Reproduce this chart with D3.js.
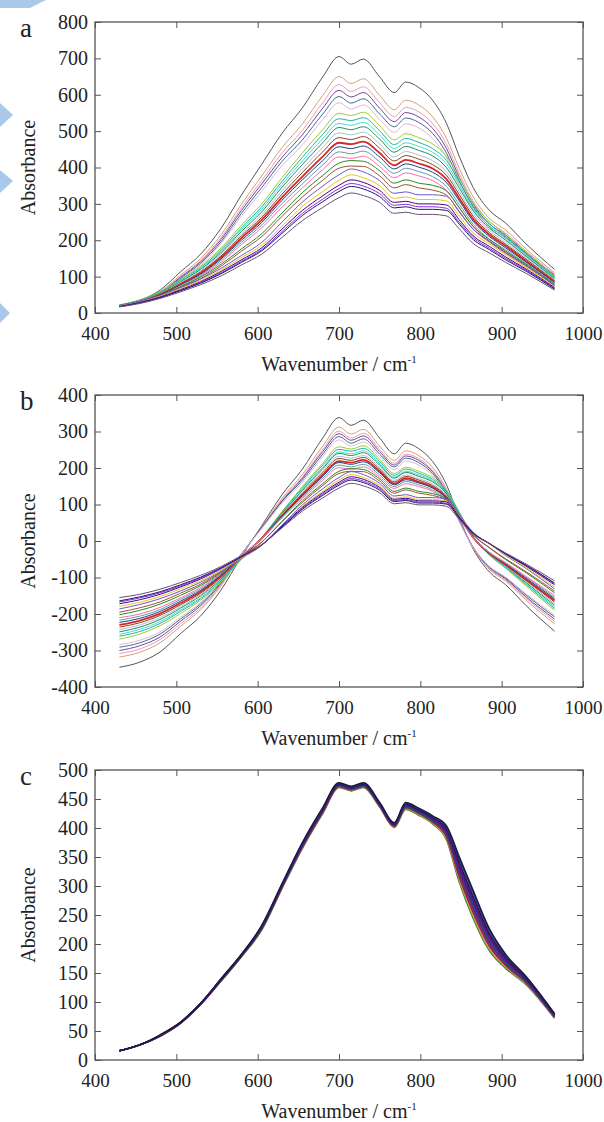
<!DOCTYPE html>
<html>
<head>
<meta charset="utf-8">
<script src="https://cdn.jsdelivr.net/npm/d3@7"></script>
<style>
  body { margin: 0; background: #fff; }
  svg { display: block; }
</style>
</head>
<body>
<svg id="chart" width="604" height="1122"></svg>
<script>
// wavenumber grid (cm-1) shared by every spectrum
const wavenumber = [430, 455, 480, 505, 530, 555, 580, 605, 630, 655, 680, 700, 715, 730, 750, 768, 782, 798, 815, 832, 848, 865, 885, 905, 930, 965];

// a: raw spectra
const rawA = [
  [21, 35, 63, 113, 162, 233, 324, 409, 494, 564, 649, 705, 684, 698, 649, 606, 635, 620, 585, 522, 430, 345, 282, 247, 190, 120],
  [20, 33, 59, 104, 150, 215, 299, 377, 455, 520, 598, 650, 631, 644, 598, 559, 585, 572, 540, 481, 397, 319, 260, 228, 176, 111],
  [19, 31, 57, 100, 144, 207, 289, 364, 440, 502, 578, 628, 609, 622, 578, 540, 565, 553, 521, 465, 383, 308, 251, 220, 170, 107],
  [18, 31, 55, 98, 141, 202, 282, 355, 428, 490, 563, 612, 594, 606, 563, 526, 551, 539, 508, 453, 373, 300, 245, 214, 165, 104],
  [18, 30, 54, 95, 137, 196, 274, 345, 417, 476, 547, 595, 577, 589, 547, 512, 536, 524, 494, 440, 363, 292, 238, 208, 161, 101],
  [17, 29, 52, 92, 133, 191, 266, 335, 405, 462, 532, 578, 561, 572, 532, 497, 520, 509, 480, 428, 353, 283, 231, 202, 156, 98],
  [22, 36, 59, 92, 129, 179, 241, 300, 372, 440, 504, 549, 543, 552, 515, 476, 493, 482, 465, 431, 370, 302, 252, 216, 168, 101],
  [22, 35, 57, 90, 125, 174, 234, 292, 362, 428, 491, 534, 529, 537, 501, 463, 480, 469, 452, 420, 360, 294, 245, 210, 164, 98],
  [21, 35, 56, 88, 122, 170, 229, 285, 354, 418, 479, 521, 516, 524, 489, 452, 468, 458, 442, 410, 351, 287, 239, 205, 160, 96],
  [21, 34, 55, 86, 120, 166, 224, 278, 346, 408, 468, 510, 504, 512, 478, 442, 458, 447, 432, 400, 343, 281, 234, 200, 156, 94],
  [20, 33, 53, 83, 116, 162, 217, 270, 336, 396, 455, 495, 490, 497, 465, 429, 444, 434, 419, 389, 333, 273, 227, 194, 152, 91],
  [20, 32, 52, 81, 113, 157, 212, 263, 327, 386, 443, 482, 477, 485, 453, 418, 433, 423, 408, 379, 325, 266, 221, 189, 148, 89],
  [19, 31, 50, 79, 110, 153, 206, 256, 318, 375, 430, 468, 464, 471, 440, 406, 421, 411, 397, 368, 315, 258, 215, 184, 143, 86],
  [19, 30, 49, 77, 107, 149, 200, 249, 310, 366, 419, 457, 452, 459, 429, 396, 410, 401, 387, 359, 308, 252, 210, 179, 140, 84],
  [18, 29, 47, 75, 104, 145, 194, 242, 301, 355, 407, 443, 438, 445, 416, 384, 398, 389, 375, 348, 298, 244, 203, 174, 136, 81],
  [18, 28, 46, 72, 101, 140, 188, 234, 291, 344, 394, 429, 425, 431, 403, 372, 385, 377, 364, 337, 289, 237, 197, 169, 131, 79],
  [19, 31, 48, 72, 99, 134, 176, 218, 275, 331, 378, 412, 419, 417, 391, 357, 366, 357, 351, 336, 289, 238, 202, 170, 134, 79],
  [18, 30, 46, 70, 95, 129, 170, 210, 266, 319, 365, 398, 404, 403, 377, 344, 353, 344, 338, 324, 279, 230, 195, 164, 129, 76],
  [20, 32, 48, 69, 93, 123, 158, 194, 250, 305, 349, 380, 396, 388, 364, 329, 333, 325, 325, 321, 277, 230, 198, 166, 131, 75],
  [19, 30, 46, 67, 89, 118, 152, 186, 239, 293, 334, 365, 380, 372, 350, 315, 319, 312, 312, 308, 266, 220, 190, 160, 125, 72],
  [18, 29, 44, 64, 86, 114, 146, 179, 231, 282, 322, 351, 366, 359, 337, 304, 307, 300, 300, 297, 256, 212, 183, 154, 121, 70],
  [18, 29, 43, 62, 84, 110, 142, 174, 224, 274, 313, 342, 356, 349, 328, 296, 299, 292, 292, 288, 249, 207, 178, 150, 118, 68],
  [17, 28, 42, 61, 82, 108, 139, 171, 219, 268, 306, 334, 348, 341, 320, 289, 292, 285, 285, 282, 244, 202, 174, 146, 115, 66],
  [17, 26, 40, 58, 78, 102, 132, 162, 208, 254, 290, 317, 330, 323, 304, 274, 277, 271, 271, 267, 231, 191, 165, 139, 109, 63]
];

// b: centred spectra
const centredB = [
  [-346, -332, -304, -254, -205, -134, -43, 42, 127, 197, 282, 338, 317, 331, 282, 239, 268, 253, 218, 155, 63, -22, -85, -120, -177, -247],
  [-318, -305, -279, -234, -188, -123, -39, 39, 117, 182, 260, 312, 293, 306, 260, 221, 247, 234, 202, 143, 59, -19, -78, -110, -162, -227],
  [-308, -296, -270, -227, -183, -120, -38, 37, 113, 175, 251, 301, 282, 295, 251, 213, 238, 226, 194, 138, 56, -19, -76, -107, -157, -220],
  [-300, -287, -263, -220, -177, -116, -36, 37, 110, 172, 245, 294, 276, 288, 245, 208, 233, 221, 190, 135, 55, -18, -73, -104, -153, -214],
  [-291, -279, -255, -214, -172, -113, -35, 36, 108, 167, 238, 286, 268, 280, 238, 203, 227, 215, 185, 131, 54, -17, -71, -101, -148, -208],
  [-284, -272, -249, -209, -168, -110, -35, 34, 104, 161, 231, 277, 260, 271, 231, 196, 219, 208, 179, 127, 52, -18, -70, -99, -145, -203],
  [-269, -255, -232, -199, -162, -112, -50, 9, 81, 149, 213, 258, 252, 261, 224, 185, 202, 191, 174, 140, 79, 11, -39, -75, -123, -190],
  [-261, -248, -226, -193, -158, -109, -49, 9, 79, 145, 208, 251, 246, 254, 218, 180, 197, 186, 169, 137, 77, 11, -38, -73, -119, -185],
  [-256, -242, -221, -189, -155, -107, -48, 8, 77, 141, 202, 244, 239, 247, 212, 175, 191, 181, 165, 133, 74, 10, -38, -72, -117, -181],
  [-249, -236, -215, -184, -150, -104, -46, 8, 76, 138, 198, 240, 234, 242, 208, 172, 188, 177, 162, 130, 73, 11, -36, -70, -114, -176],
  [-243, -230, -210, -180, -147, -101, -46, 7, 73, 133, 192, 232, 227, 234, 202, 166, 181, 171, 156, 126, 70, 10, -36, -69, -111, -172],
  [-236, -224, -204, -175, -143, -99, -44, 7, 71, 130, 187, 226, 221, 229, 197, 162, 177, 167, 152, 123, 69, 10, -35, -67, -108, -167],
  [-230, -218, -199, -170, -139, -96, -43, 7, 69, 126, 181, 219, 215, 222, 191, 157, 172, 162, 148, 119, 66, 9, -34, -65, -106, -163],
  [-223, -212, -193, -165, -135, -93, -42, 7, 68, 124, 177, 215, 210, 217, 187, 154, 168, 159, 145, 117, 66, 10, -32, -63, -102, -158],
  [-217, -206, -188, -160, -131, -90, -41, 7, 66, 120, 172, 208, 203, 210, 181, 149, 163, 154, 140, 113, 63, 9, -32, -61, -99, -154],
  [-210, -200, -182, -156, -127, -88, -40, 6, 63, 116, 166, 201, 197, 203, 175, 144, 157, 149, 136, 109, 61, 9, -31, -59, -97, -149],
  [-202, -190, -173, -149, -122, -87, -45, -3, 54, 110, 157, 191, 198, 196, 170, 136, 145, 136, 130, 115, 68, 17, -19, -51, -87, -142],
  [-195, -183, -167, -143, -118, -84, -43, -3, 53, 106, 152, 185, 191, 190, 164, 131, 140, 131, 125, 111, 66, 17, -18, -49, -84, -137],
  [-186, -174, -158, -137, -113, -83, -48, -12, 44, 99, 143, 174, 190, 182, 158, 123, 127, 119, 119, 115, 71, 24, -8, -40, -75, -131],
  [-179, -168, -152, -131, -109, -80, -46, -12, 41, 95, 136, 167, 182, 174, 152, 117, 121, 114, 114, 110, 68, 22, -8, -38, -73, -126],
  [-172, -161, -146, -126, -104, -76, -44, -11, 41, 92, 132, 161, 176, 169, 147, 114, 117, 110, 110, 107, 66, 22, -7, -36, -69, -120],
  [-167, -156, -142, -123, -101, -75, -43, -11, 39, 89, 128, 157, 171, 164, 143, 111, 114, 107, 107, 103, 64, 22, -7, -35, -67, -117],
  [-164, -153, -139, -120, -99, -73, -42, -10, 38, 87, 125, 153, 167, 160, 139, 108, 111, 104, 104, 101, 63, 21, -7, -35, -66, -115],
  [-155, -146, -132, -114, -94, -70, -40, -10, 36, 82, 118, 145, 158, 151, 132, 102, 105, 99, 99, 95, 59, 19, -7, -33, -63, -109]
];

// c: scatter-corrected spectra
const mscC = [
  [16, 26, 41, 63, 96, 136, 178, 224, 296, 365, 425, 470, 464, 470, 436, 401, 432, 422, 407, 380, 306, 244, 188, 158, 130, 72],
  [16, 26, 41, 63, 96, 136, 178, 225, 297, 366, 426, 471, 465, 471, 437, 402, 433, 423, 408, 382, 310, 248, 191, 160, 131, 73],
  [16, 26, 41, 63, 96, 137, 179, 226, 298, 367, 427, 472, 466, 472, 438, 403, 435, 425, 410, 385, 315, 254, 196, 163, 133, 74],
  [16, 26, 42, 64, 96, 137, 179, 227, 298, 368, 428, 472, 466, 472, 438, 403, 436, 426, 411, 387, 319, 258, 199, 165, 134, 74],
  [16, 26, 42, 64, 97, 137, 179, 227, 299, 369, 429, 473, 467, 473, 439, 404, 436, 426, 412, 389, 323, 262, 202, 167, 135, 75],
  [16, 26, 42, 64, 97, 138, 180, 228, 300, 370, 430, 474, 468, 474, 440, 405, 438, 428, 414, 391, 326, 266, 205, 169, 137, 76],
  [16, 26, 42, 64, 97, 138, 180, 228, 300, 370, 430, 474, 468, 474, 440, 405, 438, 428, 414, 393, 330, 270, 209, 171, 137, 76],
  [16, 26, 42, 64, 97, 139, 181, 229, 301, 371, 431, 475, 469, 475, 441, 406, 440, 430, 416, 395, 333, 274, 212, 173, 139, 77],
  [16, 26, 42, 64, 98, 139, 181, 229, 302, 372, 432, 476, 470, 476, 442, 407, 440, 430, 417, 397, 337, 278, 215, 175, 140, 78],
  [16, 26, 43, 65, 98, 139, 181, 230, 302, 373, 433, 476, 470, 476, 442, 407, 441, 431, 418, 399, 341, 282, 218, 177, 141, 78],
  [16, 26, 43, 65, 98, 140, 182, 231, 303, 374, 434, 477, 471, 477, 443, 408, 443, 433, 420, 402, 346, 288, 223, 180, 143, 79],
  [16, 26, 43, 65, 98, 140, 182, 232, 304, 375, 435, 478, 472, 478, 444, 409, 444, 434, 421, 404, 350, 292, 226, 182, 144, 80]
];

const lineColors = ['#555555', '#d2a27a', '#e79fb4', '#7b3fa0', '#3a6f8f', '#e4b6d4', '#9acd32', '#20b2aa',
                    '#40e0d0', '#2e8b57', '#a9bfe0', '#8b4513', '#d62728', '#1f3f8f', '#5f9ea0', '#ff69b4',
                    '#228b22', '#a0522d', '#6a5acd', '#e6c619', '#4b0082', '#8a2be2', '#191970', '#6b4f7a'];
const mscColors = ['#2e7d32', '#c9a227', '#7a1f6e', '#c2185b', '#2f4f4f', '#6a1b9a', '#0d47a1', '#4a148c',
                   '#880e4f', '#1a1a5e', '#283593', '#1b1b3a'];

const xTicks = [400, 500, 600, 700, 800, 900, 1000];
const yTicksA = [0, 100, 200, 300, 400, 500, 600, 700, 800];
const yTicksB = [-400, -300, -200, -100, 0, 100, 200, 300, 400];
const yTicksC = [0, 50, 100, 150, 200, 250, 300, 350, 400, 450, 500];

const font = 'Liberation Serif';
const plotLeft = 95, plotRight = 583;

let svg = d3.select('#chart');

// light blue watermark slivers along the left edge of the page
let marks = [[[0, 0], [46, 0], [30, 8], [0, 8]],
             [[0, 103], [13, 115], [0, 127]],
             [[0, 170], [13, 181], [0, 193]],
             [[0, 303], [10, 313], [0, 323]]];
svg.selectAll('polygon.mark')
    .data(marks)
    .enter()
    .append('polygon')
        .attr('class', 'mark')
        .attr('points', function(d) { return d.join(' '); })
        .attr('fill', '#aac9ea');

let x = d3.scaleLinear()
    .domain([400, 1000])
    .range([plotLeft, plotRight]);

function plain(d) { return String(d); }

function drawPanel(letter, top, bottom, yTicks, spectra, colors, width) {
    let y = d3.scaleLinear()
        .domain([yTicks[0], yTicks[yTicks.length - 1]])
        .range([bottom, top]);

    let g = svg.append('g');

    let line = d3.line()
        .x(function(d, i) { return x(wavenumber[i]); })
        .y(function(d) { return y(d); })
        .curve(d3.curveMonotoneX);

    g.selectAll('path.spectrum')
        .data(spectra)
        .enter()
        .append('path')
            .attr('class', 'spectrum')
            .attr('d', line)
            .attr('fill', 'none')
            .attr('stroke', function(d, i) { return colors[i % colors.length]; })
            .attr('stroke-width', function(d, i) { return colors[i] === '#d62728' ? 1.8 : width; });

    // inward ticks on all four sides
    let bottomAxis = g.append('g')
        .attr('transform', 'translate(0,' + bottom + ')')
        .call(d3.axisBottom(x).tickValues(xTicks).tickSize(-6).tickPadding(14)
            .tickFormat(plain).tickSizeOuter(0));
    g.append('g')
        .attr('transform', 'translate(0,' + top + ')')
        .call(d3.axisTop(x).tickValues(xTicks).tickSize(-6).tickFormat('').tickSizeOuter(0));
    let leftAxis = g.append('g')
        .attr('transform', 'translate(' + plotLeft + ',0)')
        .call(d3.axisLeft(y).tickValues(yTicks).tickSize(-6).tickPadding(7)
            .tickFormat(plain).tickSizeOuter(0));
    g.append('g')
        .attr('transform', 'translate(' + plotRight + ',0)')
        .call(d3.axisRight(y).tickValues(yTicks).tickSize(-6).tickFormat('').tickSizeOuter(0));

    g.selectAll('.domain').remove();
    g.selectAll('g').attr('font-family', font);
    leftAxis.attr('font-size', 20);
    bottomAxis.attr('font-size', 19);
    g.selectAll('.tick line').attr('stroke', '#555').attr('stroke-width', 1);
    g.selectAll('.tick text').attr('fill', '#222');

    g.append('rect')
        .attr('x', plotLeft)
        .attr('y', top)
        .attr('width', plotRight - plotLeft)
        .attr('height', bottom - top)
        .attr('fill', 'none')
        .attr('stroke', '#555')
        .attr('stroke-width', 1.3);

    g.append('text')
        .attr('x', 20)
        .attr('y', top + 15)
        .attr('font-family', font)
        .attr('font-size', 27)
        .attr('fill', '#222')
        .text(letter);

    g.append('text')
        .attr('transform', 'translate(35,' + ((top + bottom) / 2) + ') rotate(-90)')
        .attr('text-anchor', 'middle')
        .attr('font-family', font)
        .attr('font-size', 20)
        .attr('fill', '#222')
        .text('Absorbance');

    let xlab = g.append('text')
        .attr('x', (plotLeft + plotRight) / 2)
        .attr('y', bottom + 58)
        .attr('text-anchor', 'middle')
        .attr('font-family', font)
        .attr('font-size', 20)
        .attr('fill', '#222');
    xlab.append('tspan').text('Wavenumber / cm');
    xlab.append('tspan').attr('dy', -8).attr('font-size', 11).text('-1');
}

drawPanel('a', 22, 313, yTicksA, rawA, lineColors, 1);
drawPanel('b', 395, 687, yTicksB, centredB, lineColors, 1);
drawPanel('c', 770, 1060, yTicksC, mscC, mscColors, 1.5);
</script>
</body>
</html>
